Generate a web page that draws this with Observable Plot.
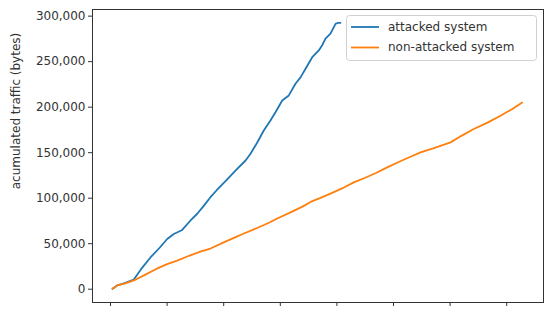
<!DOCTYPE html>
<html>
<head>
<meta charset="utf-8">
<script src="https://cdn.jsdelivr.net/npm/d3@7"></script>
<script src="https://cdn.jsdelivr.net/npm/@observablehq/plot@0.6"></script>
<style>
  html, body { margin: 0; padding: 0; background: #fff; }
  #chart { width: 550px; height: 315px; }
  svg { font-family: "DejaVu Sans", sans-serif; }
</style>
</head>
<body>
<div id="chart"></div>
<script>
// Series names and colours
const seriesNames = ["attacked system", "non-attacked system"];
const seriesColors = ["#1f77b4", "#ff7f0e"];

// attacked system: x position, accumulated traffic (thousand bytes)
const attackedX = [1.8, 5.9, 12, 20.6, 27, 35.3, 43, 50.1, 55.9, 63.3, 70.7, 76.6, 82, 88.3, 94, 101.6, 110.4, 119.3, 123.7, 130, 135.4, 141.3, 146, 151.7, 157.5, 163.4, 168, 172.3, 178.2, 184, 187, 189.9, 194.3, 198.8, 201, 203.2];
const attackedY = [0.4, 4.1, 6.5, 10.7, 22, 34.9, 45, 55.2, 60.7, 65.1, 75.5, 82.9, 91, 101.1, 109, 118.8, 130.4, 141.4, 148.8, 162, 174.4, 185.4, 195, 207.4, 212.9, 225.7, 233, 242.2, 254.9, 262.3, 268, 275.2, 280.7, 291.6, 292.7, 292.7];

// non-attacked system
const normalX = [1.8, 5.9, 13, 20.6, 30, 40, 50, 58.9, 70, 80, 88.3, 100, 110, 117.8, 130, 140, 147.3, 160, 170, 176.7, 185, 194.3, 205, 214.9, 225, 235, 244.4, 255, 265, 273.9, 287, 300.4, 310, 320.9, 333, 344.5, 355, 363.7];
const normalY = [0.5, 4.1, 6.5, 9.6, 15.5, 22, 27.5, 31.5, 37, 41.5, 44.7, 51.5, 57, 61.2, 67.5, 73, 77.7, 85, 91, 95.9, 100, 105, 111, 117.4, 122.5, 128, 133.8, 140, 145.5, 150.3, 155.5, 161.3, 168.5, 176, 183, 190.6, 198, 205];

// Axis ticks
const xTicks = [0, 50, 100, 150, 200, 250, 300, 350];
const yTicks = [0, 50000, 100000, 150000, 200000, 250000, 300000];
const yLabel = "acumulated traffic (bytes)";

const data = [
  ...attackedX.map((x, i) => ({x, y: attackedY[i] * 1000, s: seriesNames[0]})),
  ...normalX.map((x, i) => ({x, y: normalY[i] * 1000, s: seriesNames[1]}))
];

const plot = Plot.plot({
  width: 550,
  height: 315,
  marginLeft: 92,
  marginRight: 7,
  marginTop: 9,
  marginBottom: 13,
  style: {fontFamily: "DejaVu Sans", fontSize: "12px", color: "#333", background: "#fff"},
  x: {domain: [-15.9, 382.5]},
  y: {domain: [-14600, 307300]},
  color: {domain: seriesNames, range: seriesColors},
  marks: [
    Plot.line(data, {x: "x", y: "y", z: "s", stroke: "s", strokeWidth: 1.8}),
    Plot.frame({stroke: "#333", strokeWidth: 1}),
    Plot.axisY({ticks: yTicks, tickFormat: d3.format(","), tickSize: 4, tickPadding: 3, label: null, fontSize: 12}),
    Plot.axisX({ticks: xTicks, tickFormat: () => "", tickSize: 4, label: null})
  ]
});

document.getElementById("chart").appendChild(plot);

const svg = d3.select(plot);
// y-axis title
svg.append("text")
  .attr("transform", "translate(16,111) rotate(-90)")
  .attr("text-anchor", "middle")
  .attr("dominant-baseline", "middle")
  .attr("fill", "#333")
  .attr("font-size", 12)
  .text(yLabel);

// legend
const lg = svg.append("g").attr("text-anchor", "start");
lg.append("rect")
  .attr("x", 346.5).attr("y", 15.5).attr("width", 190).attr("height", 45)
  .attr("rx", 3).attr("fill", "#fff").attr("fill-opacity", 0.8)
  .attr("stroke", "#d0d0d0");
seriesNames.forEach((name, i) => {
  const yy = 27 + i * 20.5;
  lg.append("line").attr("x1", 351).attr("x2", 379).attr("y1", yy).attr("y2", yy)
    .attr("stroke", seriesColors[i]).attr("stroke-width", 1.8);
  lg.append("text").attr("x", 388).attr("y", yy).attr("dominant-baseline", "middle")
    .attr("text-anchor", "start")
    .attr("fill", "#333").attr("font-size", 12).text(name);
});
</script>
</body>
</html>
